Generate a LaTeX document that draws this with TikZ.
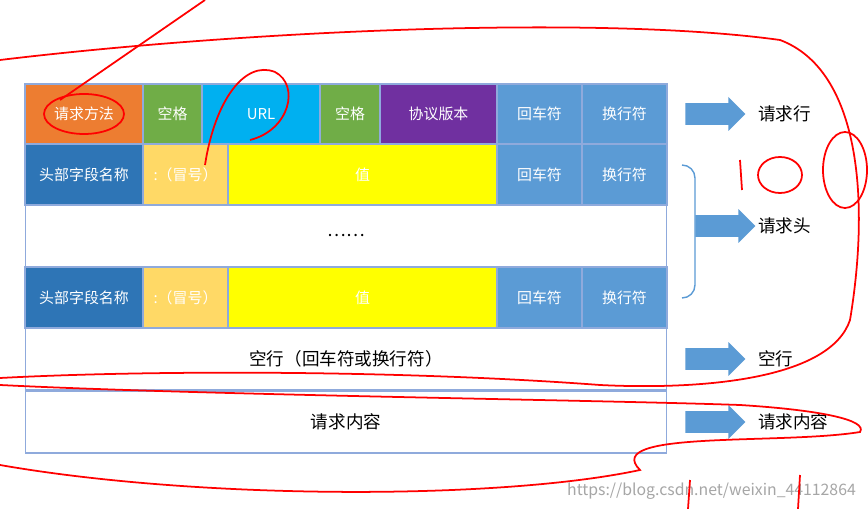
\documentclass[tikz,border=0pt]{standalone}
\usepackage{fontspec}
\setmainfont{Noto Sans CJK SC}
\usetikzlibrary{shapes.arrows}
\definecolor{cor}{HTML}{ED7D31}
\definecolor{cgr}{HTML}{70AD47}
\definecolor{ccy}{HTML}{00B0F0}
\definecolor{cpu}{HTML}{7030A0}
\definecolor{cbl}{HTML}{5B9BD5}
\definecolor{cdb}{HTML}{2E75B6}
\definecolor{clo}{HTML}{FFD966}
\definecolor{cye}{HTML}{FFFF00}
\definecolor{cedge}{HTML}{8FAADC}
\begin{document}
\begin{tikzpicture}[x=0.02cm,y=-0.02cm,
  cell/.style={draw=cedge,line width=0.6pt,text=white,font=\fontsize{8.5}{9}\selectfont},
  wcell/.style={draw=cedge,line width=0.6pt,fill=white,text=black,font=\fontsize{10}{12}\selectfont},
  bigarrow/.style={single arrow,draw=none,fill=cbl,minimum width=0.68cm,single arrow head extend=0.12cm,minimum height=1.2cm,inner sep=0.2cm},
  lab/.style={anchor=west,font=\fontsize{10}{12}\selectfont},
  red/.style={draw=red,line width=1pt}]
\useasboundingbox (0,0) rectangle (868,509);
\fill[white] (0,0) rectangle (868,509);
% row 1
\node[cell,fill=cor,minimum width=2.36cm,minimum height=1.2cm,inner sep=0] (m) at (84,114) {请求方法};
\node[cell,fill=cgr,minimum width=1.18cm,minimum height=1.2cm,inner sep=0] (s1) at (172.5,114) {空格};
\node[cell,fill=ccy,minimum width=2.36cm,minimum height=1.2cm,inner sep=0] (u) at (261,114) {URL};
\node[cell,fill=cgr,minimum width=1.2cm,minimum height=1.2cm,inner sep=0] (s2) at (350,114) {空格};
\node[cell,fill=cpu,minimum width=2.34cm,minimum height=1.2cm,inner sep=0] (v) at (438.5,114) {协议版本};
\node[cell,fill=cbl,minimum width=1.7cm,minimum height=1.2cm,inner sep=0] (cr1) at (539.5,114) {回车符};
\node[cell,fill=cbl,minimum width=1.7cm,minimum height=1.2cm,inner sep=0] (lf1) at (624.5,114) {换行符};
% row 2
\node[cell,fill=cdb,minimum width=2.36cm,minimum height=1.22cm,inner sep=0] (h1) at (84,174.5) {头部字段名称};
\node[cell,fill=clo,minimum width=1.7cm,minimum height=1.22cm,inner sep=0] (c1) at (185.5,174.5) {:（冒号）};
\node[cell,fill=cye,minimum width=5.38cm,minimum height=1.22cm,inner sep=0] (v1) at (362.5,174.5) {值};
\node[cell,fill=cbl,minimum width=1.7cm,minimum height=1.22cm,inner sep=0] (cr2) at (539.5,174.5) {回车符};
\node[cell,fill=cbl,minimum width=1.7cm,minimum height=1.22cm,inner sep=0] (lf2) at (624.5,174.5) {换行符};
% row 3
\node[wcell,minimum width=12.84cm,minimum height=1.24cm,inner sep=0] (dots) at (346,236) {……};
% row 4
\node[cell,fill=cdb,minimum width=2.36cm,minimum height=1.22cm,inner sep=0] (h2) at (84,297.5) {头部字段名称};
\node[cell,fill=clo,minimum width=1.7cm,minimum height=1.22cm,inner sep=0] (c2) at (185.5,297.5) {:（冒号）};
\node[cell,fill=cye,minimum width=5.38cm,minimum height=1.22cm,inner sep=0] (v2) at (362.5,297.5) {值};
\node[cell,fill=cbl,minimum width=1.7cm,minimum height=1.22cm,inner sep=0] (cr3) at (539.5,297.5) {回车符};
\node[cell,fill=cbl,minimum width=1.7cm,minimum height=1.22cm,inner sep=0] (lf3) at (624.5,297.5) {换行符};
% row 5,6
\node[wcell,minimum width=12.84cm,minimum height=1.24cm,inner sep=0] (blank) at (346,359) {空行（回车符或换行符）};
\node[wcell,minimum width=12.84cm,minimum height=1.24cm,inner sep=0] (body) at (346,422) {请求内容};
% arrows and labels
\node[bigarrow] (a1) at (710,114) {};
\node[lab] (l1) at (752,114) {请求行};
\node[bigarrow] (a2) at (720,226) {};
\node[lab] (l2) at (752,226) {请求头};
\node[bigarrow] (a3) at (710,359) {};
\node[lab] (l3) at (752,359) {空行};
\node[bigarrow] (a4) at (710,422) {};
\node[lab] (l4) at (752,422) {请求内容};
\draw[cbl,line width=0.8pt] (682,165) to[out=0,in=90] (695,178) -- (695,285) to[out=-90,in=0] (682,298);
\node[anchor=east,text=gray!70,font=\fontsize{9}{10}\selectfont] (wm) at (862,491) {https://blog.csdn.net/weixin\_44112864};
% red annotations
\draw[red] (84,114) ellipse (40 and 20);
\draw[red] (60,100) -- (205,0);
\draw[red] (205,165) .. controls (215,100) and (245,60) .. (275,72) .. controls (300,85) and (290,130) .. (250,140);
\draw[red] (0,60) .. controls (250,30) and (600,15) .. (780,40) .. controls (860,70) and (870,200) .. (850,320) .. controls (830,380) and (700,390) .. (600,385) .. controls (400,370) and (150,370) .. (0,378);
\draw[red] (0,385) .. controls (200,395) and (600,400) .. (740,405) .. controls (820,410) and (868,420) .. (860,432) .. controls (780,445) and (600,430) .. (640,470) .. controls (500,500) and (200,500) .. (0,465);
\draw[red] (740,160) -- (742,190);
\draw[red] (780,175) ellipse (22 and 18);
\draw[red] (845,170) ellipse (22 and 38);
\draw[red] (690,480) -- (688,509);
\draw[red] (800,475) -- (798,509);
\end{tikzpicture}
\end{document}
